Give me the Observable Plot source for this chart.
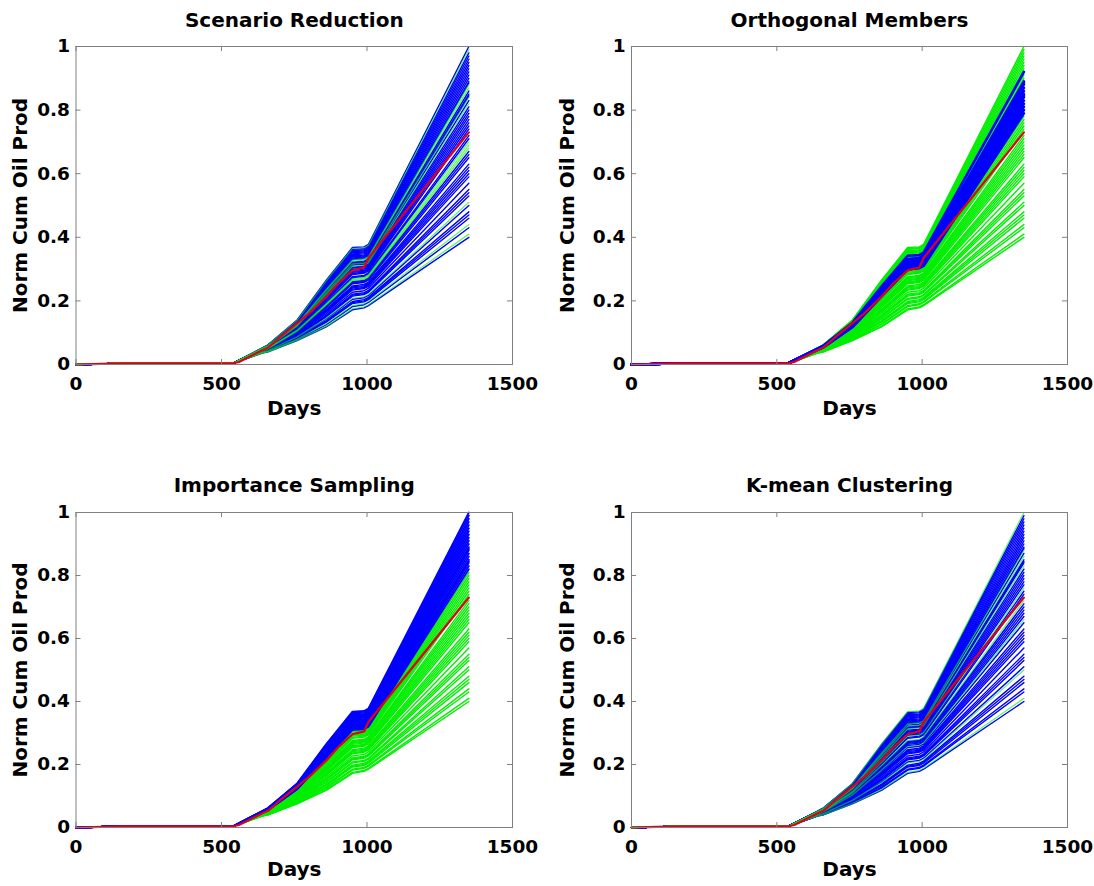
<!DOCTYPE html>
<html>
<head>
<meta charset="utf-8">
<script src="https://cdn.jsdelivr.net/npm/d3@7"></script>
<script src="https://cdn.jsdelivr.net/npm/@observablehq/plot@0.6"></script>
<style>
  html, body { margin: 0; padding: 0; background: #fff; }
  #wrap { position: relative; width: 1094px; height: 886px; overflow: hidden; }
  #wrap svg { position: absolute; }
</style>
</head>
<body>
<div id="wrap"></div>
<script>
// ---------- data ----------
const titles = ["Scenario Reduction", "Orthogonal Members", "Importance Sampling", "K-mean Clustering"];
const xTicks = [0, 500, 1000, 1500];
const yTicks = [0, 0.2, 0.4, 0.6, 0.8, 1];

// shared early part of every ensemble member (days, values)
const earlyDays = [0, 60, 150, 540];
const earlyVals = [0, 0.001, 0.004, 0.004];

// member-specific sample days
const memberDays = [640, 660, 760, 860, 950, 990, 1005, 1350];
// values of each ensemble member (55 members) at those days
const d640 = [.036,.036,.037,.037,.038,.038,.038,.039,.039,.039,.040,.040,.041,.041,.041,.042,.042,.042,.043,.043,.043,.043,.044,.044,.044,.045,.045,.045,.046,.046,.046,.046,.047,.047,.047,.047,.048,.048,.048,.048,.049,.049,.049,.049,.049,.050,.050,.050,.050,.051,.051,.051,.051,.052,.052];
const d660 = [.040,.040,.041,.041,.042,.043,.043,.044,.044,.045,.045,.046,.046,.047,.047,.048,.048,.048,.049,.050,.050,.050,.051,.051,.051,.052,.052,.053,.053,.054,.054,.054,.055,.055,.055,.056,.056,.056,.057,.057,.057,.058,.058,.058,.058,.059,.059,.059,.060,.060,.061,.061,.061,.062,.062];
const d760 = [.075,.076,.078,.079,.082,.083,.084,.086,.087,.089,.090,.091,.093,.096,.097,.098,.099,.100,.102,.103,.104,.105,.106,.108,.109,.110,.112,.113,.114,.115,.116,.117,.118,.119,.121,.122,.123,.123,.124,.125,.126,.127,.128,.128,.129,.130,.131,.132,.134,.135,.136,.137,.138,.139,.140];
const d860 = [.118,.120,.125,.128,.133,.135,.138,.143,.145,.150,.152,.155,.160,.165,.167,.169,.172,.174,.179,.182,.184,.187,.189,.192,.194,.196,.201,.204,.206,.209,.211,.214,.216,.218,.221,.223,.226,.227,.228,.231,.233,.236,.237,.238,.240,.243,.245,.248,.250,.253,.255,.258,.260,.263,.265];
const d950 = [.172,.175,.182,.185,.192,.195,.198,.205,.208,.215,.218,.221,.227,.234,.237,.241,.244,.247,.254,.257,.260,.264,.267,.270,.273,.276,.283,.286,.290,.293,.296,.299,.303,.306,.309,.313,.316,.317,.319,.322,.325,.329,.330,.332,.335,.339,.342,.345,.348,.352,.355,.358,.362,.365,.368];
const d990 = [.178,.181,.188,.191,.197,.200,.204,.210,.213,.220,.223,.226,.232,.239,.242,.245,.248,.252,.258,.261,.264,.268,.271,.274,.277,.280,.287,.290,.293,.296,.300,.303,.306,.309,.312,.316,.319,.320,.322,.325,.328,.332,.333,.335,.338,.341,.344,.348,.351,.354,.357,.360,.364,.367,.370];
const d1005 = [.185,.188,.195,.198,.204,.208,.211,.217,.220,.227,.230,.233,.240,.246,.249,.253,.256,.259,.265,.269,.272,.275,.278,.282,.285,.288,.294,.298,.301,.304,.307,.310,.314,.317,.320,.323,.326,.328,.330,.333,.336,.339,.341,.343,.346,.349,.352,.355,.359,.362,.365,.368,.372,.375,.378];
const d1350 = [.40,.41,.43,.44,.46,.47,.48,.50,.51,.53,.54,.55,.57,.59,.60,.61,.62,.63,.65,.66,.67,.68,.69,.70,.71,.72,.74,.75,.76,.77,.78,.79,.80,.81,.82,.83,.84,.845,.85,.86,.87,.88,.885,.89,.90,.91,.92,.93,.94,.95,.96,.97,.98,.99,1.00];

// reference (red) curve
const redDays = [0, 60, 150, 540, 560, 640, 660, 700, 760, 800, 860, 900, 950, 990, 1005, 1350];
const redVals = [0, 0.001, 0.004, 0.004, 0.008, 0.045, 0.053, 0.085, 0.13, 0.16, 0.213, 0.254, 0.296, 0.305, 0.335, 0.73];

// per-panel: colour of the whole ensemble and the members singled out in the other colour
const baseColors = ["blue", "green", "green", "blue"];
const pickColors = ["green", "blue", "blue", "green"];
const picks1 = [1, 3, 8, 21, 22, 23, 34, 36, 40, 41, 53];
const picks2 = [31, 32, 33, 34, 35, 36, 37, 38, 39, 40, 41, 42, 43, 46];
const picks3 = [34, 35, 36, 37, 38, 39, 40, 41, 42, 43, 44, 45, 46, 47, 48, 49, 50, 51, 52, 53, 54];
const picks4 = [1, 7, 19, 25, 28, 35, 39, 41, 54];
const picks = [picks1, picks2, picks3, picks4];

// ---------- build ----------
const memberCols = [d640, d660, d760, d860, d950, d990, d1005, d1350];
const nMembers = d1350.length;
function memberRows(m) {
  const rows = earlyDays.map((d, k) => ({m, day: d, v: earlyVals[k]}));
  memberDays.forEach((d, k) => rows.push({m, day: d, v: memberCols[k][m]}));
  return rows;
}
const redRows = redDays.map((d, k) => ({day: d, v: redVals[k]}));

const colorHex = {blue: "#0000ff", green: "#00ee00"};

// layout (pixel boxes of the four panels)
const layout = [
  {left: 0,   top: 0,   ml: 75.5, mr: 35, mt: 46, mb: 79, titleDy: -26, labDy: 44},
  {left: 547, top: 0,   ml: 84,   mr: 27, mt: 46, mb: 79, titleDy: -26, labDy: 44},
  {left: 0,   top: 443, ml: 75.5, mr: 35, mt: 69, mb: 59, titleDy: -27, labDy: 42},
  {left: 547, top: 443, ml: 84,   mr: 27, mt: 69, mb: 59, titleDy: -27, labDy: 42}
];

const wrap = document.getElementById("wrap");
const fmt = d => String(d);

layout.forEach((L, i) => {
  const W = 547, H = 443;
  const pw = W - L.ml - L.mr, ph = H - L.mt - L.mb;
  const sel = new Set(picks[i]);
  let base = [], pick = [];
  for (let m = 0; m < nMembers; m++) {
    (sel.has(m) ? pick : base).push(...memberRows(m));
  }
  const pickIsGreen = pickColors[i] === "green";
  const chart = Plot.plot({
    width: W, height: H,
    marginLeft: L.ml, marginRight: L.mr, marginTop: L.mt, marginBottom: L.mb,
    x: {domain: [0, 1500], axis: null},
    y: {domain: [0, 1], axis: null},
    style: {fontFamily: "'DejaVu Sans', sans-serif", fontWeight: "bold", fontSize: "18.5px", color: "#000", background: "transparent", overflow: "visible"},
    marks: [
      Plot.line(base, {x: "day", y: "v", z: "m", stroke: colorHex[baseColors[i]], strokeWidth: 1.4}),
      Plot.line(pick, {x: "day", y: "v", z: "m", stroke: colorHex[pickColors[i]],
        strokeWidth: pickIsGreen ? 1.3 : (i === 1 ? 2.6 : 1.8), strokeOpacity: pickIsGreen ? 0.6 : 1}),
      Plot.line(redRows, {x: "day", y: "v", stroke: "#e00018", strokeWidth: 2.2}),
      Plot.frame({stroke: "#808080", strokeWidth: 1}),
      Plot.ruleX(xTicks, {y1: 1, y2: 0, insetTop: ph - 5, stroke: "#808080"}),
      Plot.ruleX(xTicks, {y1: 1, y2: 0, insetBottom: ph - 5, stroke: "#808080"}),
      Plot.ruleY(yTicks, {x1: 0, x2: 1500, insetRight: pw - 5, stroke: "#808080"}),
      Plot.ruleY(yTicks, {x1: 0, x2: 1500, insetLeft: pw - 5, stroke: "#808080"}),
      Plot.axisX({ticks: xTicks, tickSize: 0, tickPadding: 12, tickFormat: fmt, label: null, fontSize: 18.5, fontWeight: "bold"}),
      Plot.axisY({ticks: yTicks, tickSize: 0, tickPadding: 6, tickFormat: fmt, label: null, fontSize: 18.5, fontWeight: "bold"}),
      Plot.text([titles[i]], {frameAnchor: "top", lineAnchor: "middle", textAnchor: "middle", dy: L.titleDy, fontSize: 20, fontWeight: "bold", fill: "#000"}),
      Plot.text(["Days"], {frameAnchor: "bottom", lineAnchor: "middle", textAnchor: "middle", dy: L.labDy, fontSize: 20, fontWeight: "bold", fill: "#000"}),
      Plot.text(["Norm Cum Oil Prod"], {frameAnchor: "left", lineAnchor: "middle", textAnchor: "middle", dx: -(L.ml - 20.5), rotate: -90, fontSize: 20, fontWeight: "bold", fill: "#000"})
    ]
  });
  chart.style.left = L.left + "px";
  chart.style.top = L.top + "px";
  wrap.appendChild(chart);
});
</script>
</body>
</html>
